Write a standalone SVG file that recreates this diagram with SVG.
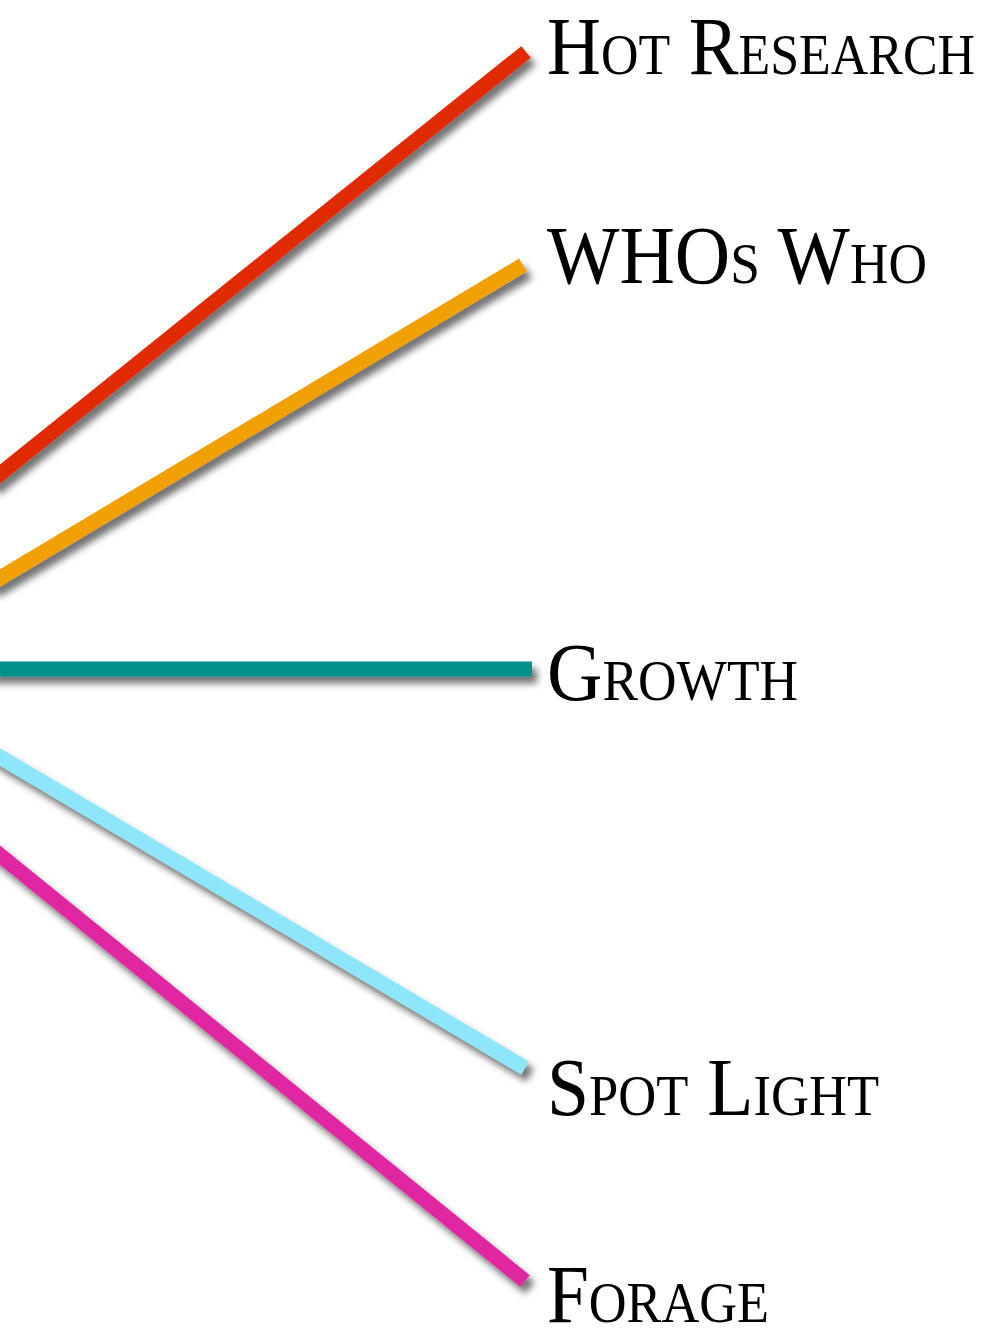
<svg xmlns="http://www.w3.org/2000/svg" width="988" height="1332" viewBox="0 0 988 1332">
<defs>
<filter id="sh" filterUnits="userSpaceOnUse" x="-50" y="-50" width="1100" height="1450">
<feDropShadow dx="5" dy="7" stdDeviation="3.5" flood-color="#000" flood-opacity="0.55"/>
</filter>
<style>
.ln{stroke-width:15;fill:none;stroke-linecap:butt;filter:url(#sh)}
.lb{font-family:"Liberation Serif","Times New Roman",serif;font-variant:small-caps;fill:#000;font-size:82px}
</style>
</defs>
<rect width="988" height="1332" fill="#fff"/>
<g id="connectors">
<line class="ln" x1="-10" y1="482" x2="526" y2="52" stroke="#e02a00"/>
<line class="ln" x1="-10" y1="584" x2="523" y2="265" stroke="#f0a000"/>
<line class="ln" x1="-10" y1="669" x2="532" y2="669" stroke="#00918a"/>
<line class="ln" x1="-10" y1="751" x2="525" y2="1068" stroke="#8ee6fb"/>
<line class="ln" x1="-10" y1="847" x2="525" y2="1281" stroke="#e026a0"/>
</g>
<g id="hot-research"><text class="lb" x="547" y="74" textLength="428" lengthAdjust="spacingAndGlyphs">Hot Research</text></g>
<g id="whos-who"><text class="lb" x="547" y="283" textLength="380" lengthAdjust="spacingAndGlyphs">WHOs Who</text></g>
<g id="growth"><text class="lb" x="547" y="700" textLength="251" lengthAdjust="spacingAndGlyphs">Growth</text></g>
<g id="spot-light"><text class="lb" x="547" y="1115" textLength="332" lengthAdjust="spacingAndGlyphs">Spot Light</text></g>
<g id="forage"><text class="lb" x="547" y="1322" textLength="222" lengthAdjust="spacingAndGlyphs">Forage</text></g>
</svg>
